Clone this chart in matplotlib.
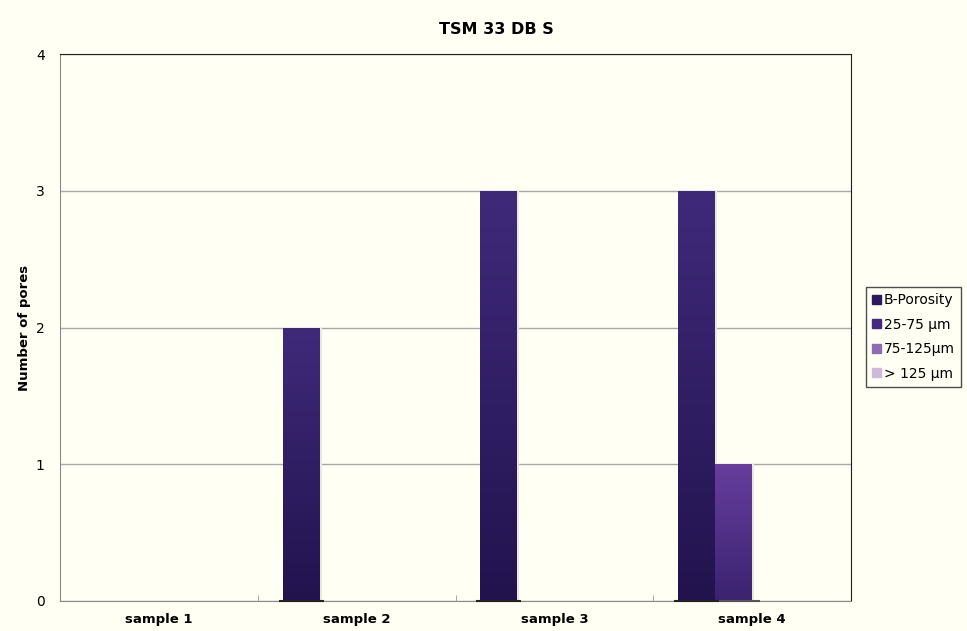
import numpy as np
import matplotlib.pyplot as plt
from matplotlib.colors import LinearSegmentedColormap
from matplotlib.patches import Rectangle

categories = ["sample 1", "sample 2", "sample 3", "sample 4"]
series_names = ["25-75 µm", "75-125µm", "> 125 µm", "B-Porosity"]
s_25_75 = [0, 2, 3, 3]
s_75_125 = [0, 0, 0, 1]
s_gt_125 = [0, 0, 0, 0]
s_bpor = [0, 0, 0, 0]
y_ticks = [0, 1, 2, 3, 4]

legend_order = ["B-Porosity", "25-75 µm", "75-125µm", "> 125 µm"]
legend_colors = {"B-Porosity": "#2b1b5c", "25-75 µm": "#432c80",
                 "75-125µm": "#8c6cb4", "> 125 µm": "#cbbbd9"}
# gradient (top, bottom) for each series
grad = {"25-75 µm": ("#3f2a7a", "#22134e"),
        "75-125µm": ("#673e9e", "#3a236f"),
        "> 125 µm": ("#cbbbd9", "#a898bc"),
        "B-Porosity": ("#2b1b5c", "#1a0f3c")}

bg = "#fffff3"
fig = plt.figure(figsize=(9.67, 6.31), dpi=100, facecolor=bg)
ax = fig.add_axes([60/967, 1-601/631, (851-60)/967, (601-54)/631])
ax.set_facecolor(bg)

x = np.arange(len(categories))
w = 0.187
data = [s_25_75, s_75_125, s_gt_125, s_bpor]
offsets = [-1.5*w, -0.5*w, 0.5*w, 1.5*w]

for name, vals, off in zip(series_names, data, offsets):
    bars = ax.bar(x + off, vals, width=w, color="none", edgecolor="none", zorder=3)
    cmap = LinearSegmentedColormap.from_list(name, [grad[name][1], grad[name][0]])
    for b, v in zip(bars, vals):
        if v <= 0:
            continue
        x0, y0 = b.get_x(), b.get_y()
        img = ax.imshow(np.linspace(0, 1, 256).reshape(-1, 1), cmap=cmap,
                        extent=[x0, x0 + b.get_width(), y0, y0 + v],
                        origin="lower", aspect="auto", zorder=3)
        img.set_clip_path(b)
        # soft shadow along the right edge
        ax.add_patch(Rectangle((x0 + b.get_width(), 0), 0.01, v,
                               color="#ebe7df", zorder=2, lw=0))

ax.set_aspect("auto")
ax.set_xlim(-0.5, len(categories)-0.5)
ax.set_ylim(0, 4)

# baseline strokes beneath the bar groups that hold data
for i, vals in enumerate(zip(*data)):
    if any(v > 0 for v in vals):
        ax.plot([i - 2.0*w - 0.02, i - 1.0*w + 0.02], [0, 0], color="#222222",
                lw=1.5, zorder=4, clip_on=False, solid_capstyle="butt")
        if s_75_125[i] > 0:
            ax.plot([i - 1.0*w + 0.02, i + 0.2*w], [0, 0], color="#555555",
                    lw=1.5, zorder=4, clip_on=False, solid_capstyle="butt")

ax.set_yticks(y_ticks)
ax.set_yticklabels([str(t) for t in y_ticks], fontsize=10)
ax.yaxis.grid(True, color="#a8a8a8", lw=1)
ax.set_axisbelow(True)
ax.tick_params(axis="y", length=0, pad=11)

ax.set_xticks(x)
ax.set_xticklabels(categories, fontsize=9.5, fontweight="bold")
ax.set_xticks(np.arange(1, len(categories)) - 0.5, minor=True)
ax.tick_params(axis="x", which="major", length=0, pad=9)
ax.tick_params(axis="x", which="minor", length=4, direction="in", color="#999999")

for s in ["left", "bottom"]:
    ax.spines[s].set_color("#8a8a8a")
for s in ["top", "right"]:
    ax.spines[s].set_color("#222222")

ax.set_ylabel("Number of pores", fontsize=9.5, fontweight="bold", va="center")
ax.yaxis.set_label_coords(-35/791, 0.5)
fig.text(496/967, 1-30/631, "TSM 33 DB S", ha="center", va="center",
         fontsize=11.5, fontweight="bold")

handles = [Rectangle((0, 0), 1, 1, color=legend_colors[n]) for n in legend_order]
leg = fig.legend(handles, legend_order, loc="center left",
                 bbox_to_anchor=(866/967, 1-337/631), fontsize=10,
                 frameon=True, fancybox=False, edgecolor="#222222",
                 facecolor=bg, handlelength=0.6, handleheight=0.6,
                 handletextpad=0.25, labelspacing=0.75, borderpad=0.45,
                 borderaxespad=0)
leg.get_frame().set_linewidth(1.0)

fig.savefig("out.png", dpi=100, facecolor=bg)
